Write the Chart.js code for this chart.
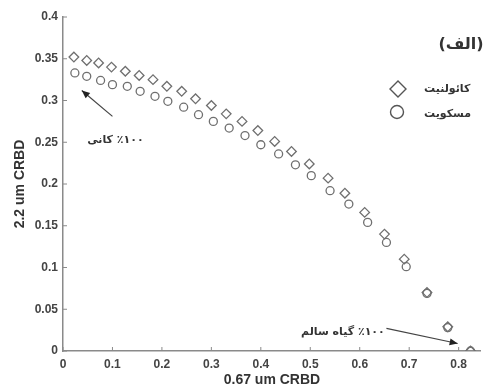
<!DOCTYPE html>
<html>
<head>
<meta charset="utf-8">
<script src="https://cdn.jsdelivr.net/npm/chart.js@4.4.1/dist/chart.umd.min.js"></script>
<style>
body{margin:0;background:#fff}
#wrap{width:487px;height:392px}
</style>
</head>
<body>
<div id="wrap"><canvas id="myChart" width="487" height="392"></canvas></div>
<script>
// kaolinite (diamonds)
var kaoX = [0.022,0.048,0.072,0.098,0.126,0.154,0.182,0.210,0.240,0.268,0.300,0.330,0.362,0.394,0.428,0.462,0.498,0.536,0.570,0.610,0.650,0.690,0.736,0.778,0.824];
var kaoY = [0.352,0.348,0.345,0.340,0.335,0.330,0.325,0.317,0.311,0.302,0.294,0.284,0.275,0.264,0.251,0.239,0.224,0.207,0.189,0.166,0.140,0.110,0.070,0.029,0.000];
// muscovite (circles)
var musX = [0.024,0.048,0.076,0.100,0.130,0.156,0.186,0.212,0.244,0.274,0.304,0.336,0.368,0.400,0.436,0.470,0.502,0.540,0.578,0.616,0.654,0.694,0.736,0.778,0.824];
var musY = [0.333,0.329,0.324,0.319,0.317,0.311,0.305,0.299,0.292,0.283,0.275,0.267,0.258,0.247,0.236,0.223,0.210,0.192,0.176,0.154,0.130,0.101,0.069,0.028,0.000];

var seriesNames = ['کائولنیت', 'مسکویت'];
var xTicks = [0,0.1,0.2,0.3,0.4,0.5,0.6,0.7,0.8];
var yTicks = [0,0.05,0.1,0.15,0.2,0.25,0.3,0.35,0.4];

function pairs(xs, ys){
    return xs.map(function(x, i){ return {x: x, y: ys[i]}; });
}

var markColor = '#6f6f6f';
var textColor = '#333333';
var faFont = '"DejaVu Sans", sans-serif';

function arrow(ctx, x1, y1, x2, y2){
    ctx.beginPath();
    ctx.moveTo(x1, y1);
    ctx.lineTo(x2, y2);
    ctx.stroke();
    var a = Math.atan2(y2 - y1, x2 - x1);
    var L = 8, W = 3.5;
    ctx.beginPath();
    ctx.moveTo(x2, y2);
    ctx.lineTo(x2 - L*Math.cos(a) + W*Math.sin(a), y2 - L*Math.sin(a) - W*Math.cos(a));
    ctx.lineTo(x2 - L*Math.cos(a) - W*Math.sin(a), y2 - L*Math.sin(a) + W*Math.cos(a));
    ctx.closePath();
    ctx.fill();
}

var extras = {
    id: 'extras',
    afterDraw: function(chart){
        var ctx = chart.ctx;
        var xs = chart.scales.x, ys = chart.scales.y;
        ctx.save();
        // inward tick marks
        ctx.strokeStyle = '#8a8a8a';
        ctx.lineWidth = 1;
        xTicks.forEach(function(v){
            var px = xs.getPixelForValue(v);
            ctx.beginPath(); ctx.moveTo(px, ys.bottom); ctx.lineTo(px, ys.bottom - 4); ctx.stroke();
        });
        yTicks.forEach(function(v){
            var py = ys.getPixelForValue(v);
            ctx.beginPath(); ctx.moveTo(xs.left, py); ctx.lineTo(xs.left + 4, py); ctx.stroke();
        });

        // arrows
        ctx.strokeStyle = '#444';
        ctx.fillStyle = '#222';
        ctx.lineWidth = 1.2;
        arrow(ctx, xs.getPixelForValue(0.100), ys.getPixelForValue(0.281), xs.getPixelForValue(0.038), ys.getPixelForValue(0.312));
        arrow(ctx, xs.getPixelForValue(0.654), ys.getPixelForValue(0.027), xs.getPixelForValue(0.798), ys.getPixelForValue(0.009));

        // annotation texts
        ctx.direction = 'rtl';
        ctx.fillStyle = textColor;
        ctx.textBaseline = 'middle';
        ctx.textAlign = 'center';
        ctx.font = 'bold 11px ' + faFont;
        ctx.fillText('٪۱۰۰ کانی', xs.getPixelForValue(0.106), ys.getPixelForValue(0.253));
        ctx.fillText('٪۱۰۰ گیاه سالم', xs.getPixelForValue(0.566), ys.getPixelForValue(0.023));

        // panel label
        ctx.font = 'bold 16px ' + faFont;
        ctx.fillText('(الف)', 461, 45);

        // legend
        ctx.font = 'bold 11px ' + faFont;
        ctx.textAlign = 'left';
        ctx.fillText(chart.data.datasets[0].label, 424, 89);
        ctx.fillText(chart.data.datasets[1].label, 424, 114);
        ctx.strokeStyle = '#555';
        ctx.lineWidth = 1.4;
        ctx.beginPath();
        ctx.moveTo(398, 81); ctx.lineTo(406, 89); ctx.lineTo(398, 97); ctx.lineTo(390, 89); ctx.closePath();
        ctx.stroke();
        ctx.beginPath();
        ctx.arc(397, 112, 6.5, 0, Math.PI*2);
        ctx.stroke();
        ctx.restore();
    }
};

var ctx = document.getElementById('myChart').getContext('2d');
var myChart = new Chart(ctx, {
    type: 'scatter',
    data: {
        datasets: [{
            label: seriesNames[0],
            data: pairs(kaoX, kaoY),
            pointStyle: 'rectRot',
            pointRadius: 4.8,
            borderColor: markColor,
            backgroundColor: 'rgba(255,255,255,0)',
            borderWidth: 1.3
        }, {
            label: seriesNames[1],
            data: pairs(musX, musY),
            pointStyle: 'circle',
            pointRadius: 4,
            borderColor: markColor,
            backgroundColor: 'rgba(255,255,255,0)',
            borderWidth: 1.3
        }]
    },
    options: {
        responsive: false,
        animation: false,
        layout: { padding: { top: 17, right: 1, left: 0, bottom: 0 } },
        plugins: { legend: { display: false }, tooltip: { enabled: false } },
        scales: {
            x: {
                type: 'linear',
                min: 0,
                max: 0.845,
                afterFit: function(s){ s.height = 41; },
                afterBuildTicks: function(s){ s.ticks = xTicks.map(function(v){ return {value: v}; }); },
                grid: { display: false, drawTicks: false },
                border: { display: true, color: '#8a8a8a', width: 1.5 },
                ticks: {
                    padding: 6,
                    color: '#444',
                    font: { family: 'Arial, "Liberation Sans"', size: 12, weight: 'bold' },
                    callback: function(v){ return String(Number(v.toFixed(2))); }
                },
                title: {
                    display: true,
                    text: '0.67 um CRBD',
                    color: textColor,
                    font: { family: 'Arial, "Liberation Sans"', size: 14, weight: 'bold' },
                    padding: { top: 0, bottom: 3 }
                }
            },
            y: {
                type: 'linear',
                min: 0,
                max: 0.4,
                afterFit: function(s){ s.width = 63; },
                afterBuildTicks: function(s){ s.ticks = yTicks.map(function(v){ return {value: v}; }); },
                grid: { display: false, drawTicks: false },
                border: { display: true, color: '#8a8a8a', width: 1.5 },
                ticks: {
                    padding: 5,
                    color: '#444',
                    font: { family: 'Arial, "Liberation Sans"', size: 12, weight: 'bold' },
                    callback: function(v){ return String(Number(v.toFixed(2))); }
                },
                title: {
                    display: true,
                    text: '2.2 um CRBD',
                    color: textColor,
                    font: { family: 'Arial, "Liberation Sans"', size: 14, weight: 'bold' },
                    padding: { top: 12, bottom: 0 }
                }
            }
        }
    },
    plugins: [extras]
});
</script>
</body>
</html>
